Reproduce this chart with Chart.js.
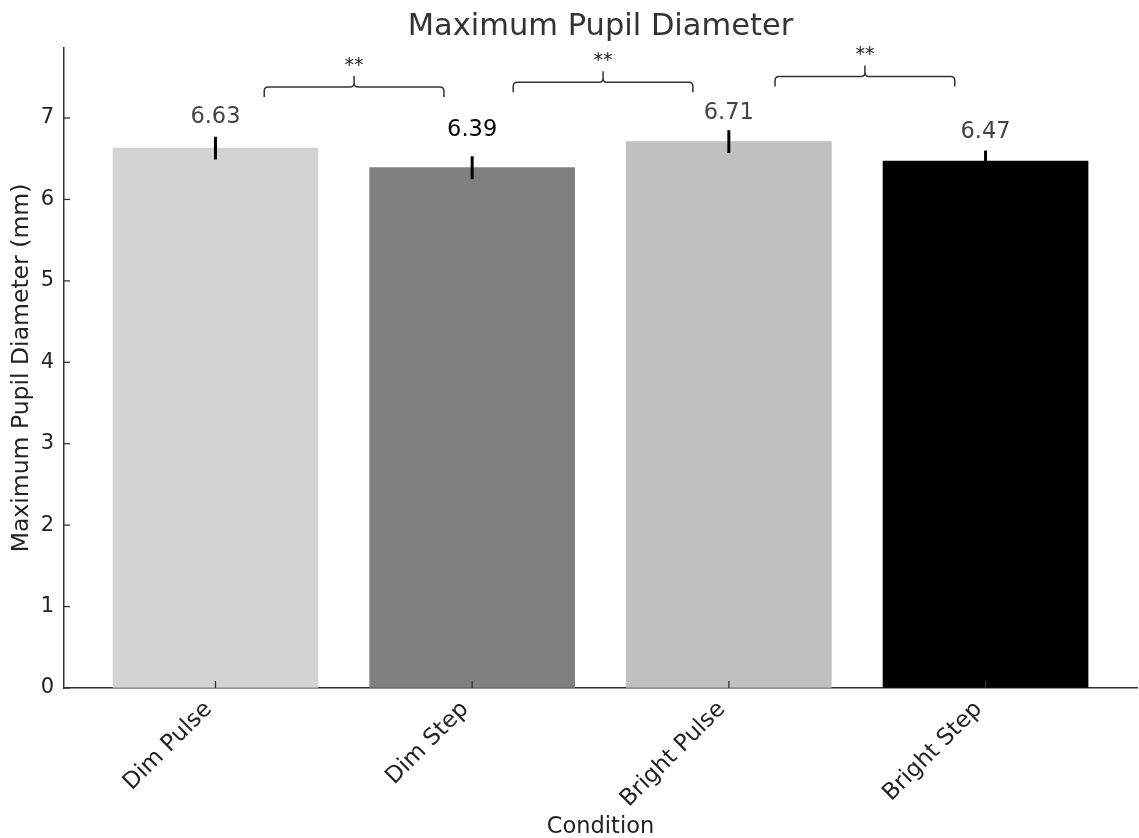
<!DOCTYPE html>
<html>
<head>
<meta charset="utf-8">
<script src="https://cdn.jsdelivr.net/npm/chart.js@4"></script>
<style>
  body { margin: 0; background: #fff; }
  canvas { display: block; }
</style>
</head>
<body>
<canvas id="myChart" width="1139" height="838"></canvas>
<script>
// chart values
const categories = ['Dim Pulse', 'Dim Step', 'Bright Pulse', 'Bright Step'];
const means = [6.63, 6.39, 6.71, 6.47];
const errors = [0.14, 0.14, 0.14, 0.13];
const barColors = ['#d3d3d3', '#808080', '#c0c0c0', '#000000'];
const yTicks = [0, 1, 2, 3, 4, 5, 6, 7];

// significance brackets (x in category units, y in mm)
const bracketFrom = [0.19, 1.16, 2.18];
const bracketTo = [0.89, 1.86, 2.88];
const bracketLevel = [7.38, 7.44, 7.51];
const bracketText = ['**', '**', '**'];

// label looks
const labelColors = ['#444444', '#000000', '#444444', '#444444'];
const labelGap = [14, 20, 11, 13];

const FONT = 'DejaVu Sans';
const AXIS = '#333333';

const extras = {
  id: 'extras',
  afterDatasetsDraw(chart) {
    const ctx = chart.ctx;
    const xs = chart.scales.x;
    const ys = chart.scales.y;
    const area = chart.chartArea;
    ctx.save();

    // error bars
    ctx.strokeStyle = '#000';
    ctx.lineWidth = 3;
    means.forEach((m, i) => {
      const x = xs.getPixelForValue(i);
      ctx.beginPath();
      ctx.moveTo(x, ys.getPixelForValue(m + errors[i]));
      ctx.lineTo(x, ys.getPixelForValue(m - errors[i]));
      ctx.stroke();
    });

    // value labels
    ctx.font = '22.5px "' + FONT + '"';
    ctx.textAlign = 'center';
    ctx.textBaseline = 'alphabetic';
    means.forEach((m, i) => {
      ctx.fillStyle = labelColors[i];
      ctx.fillText(m.toFixed(2), xs.getPixelForValue(i), ys.getPixelForValue(m + errors[i]) - labelGap[i]);
    });

    // inward tick marks
    ctx.strokeStyle = AXIS;
    ctx.lineWidth = 1.3;
    yTicks.forEach(t => {
      const y = ys.getPixelForValue(t);
      ctx.beginPath();
      ctx.moveTo(area.left, y);
      ctx.lineTo(area.left + 6, y);
      ctx.stroke();
    });
    categories.forEach((c, i) => {
      const x = xs.getPixelForValue(i);
      ctx.beginPath();
      ctx.moveTo(x, area.bottom);
      ctx.lineTo(x, area.bottom - 7);
      ctx.stroke();
    });

    // brackets
    ctx.lineWidth = 1.5;
    ctx.strokeStyle = AXIS;
    ctx.fillStyle = '#222';
    ctx.font = '19px "' + FONT + '"';
    bracketFrom.forEach((f, i) => {
      const x1 = xs.getPixelForValue(f);
      const x2 = xs.getPixelForValue(bracketTo[i]);
      const xm = (x1 + x2) / 2;
      const y = ys.getPixelForValue(bracketLevel[i]);
      const r = 4;
      ctx.beginPath();
      ctx.moveTo(x1, y + 10);
      ctx.lineTo(x1, y + r);
      ctx.quadraticCurveTo(x1, y, x1 + r, y);
      ctx.lineTo(xm - r, y);
      ctx.quadraticCurveTo(xm, y, xm, y - r);
      ctx.lineTo(xm, y - 11);
      ctx.moveTo(xm, y - r);
      ctx.quadraticCurveTo(xm, y, xm + r, y);
      ctx.lineTo(x2 - r, y);
      ctx.quadraticCurveTo(x2, y, x2, y + r);
      ctx.lineTo(x2, y + 10);
      ctx.stroke();
      ctx.fillText(bracketText[i], xm, y - 16);
    });

    // title
    ctx.fillStyle = '#333';
    ctx.font = '30.5px "' + FONT + '"';
    ctx.textBaseline = 'middle';
    ctx.fillText('Maximum Pupil Diameter', (area.left + area.right) / 2, 27);
    ctx.restore();
  }
};

const myChart = document.getElementById('myChart');

new Chart(myChart, {
  type: 'bar',
  data: {
    datasets: [{
      data: means.map((m, i) => ({ x: i, y: m })),
      backgroundColor: barColors,
      borderWidth: 0,
      barThickness: 205
    }]
  },
  options: {
    responsive: false,
    animation: false,
    devicePixelRatio: 1,
    layout: { padding: { top: 48, right: 2, left: 0, bottom: 0 } },
    plugins: {
      legend: { display: false },
      tooltip: { enabled: false }
    },
    scales: {
      x: {
        type: 'linear',
        offset: false,
        min: -0.59,
        max: 3.59,
        afterBuildTicks: scale => {
          scale.ticks = categories.map((c, i) => ({ value: i }));
        },
        afterFit: scale => { scale.height = 150; },
        grid: { drawOnChartArea: false, drawTicks: false, offset: false },
        border: { display: true, color: AXIS, width: 1.5 },
        ticks: {
          callback: v => categories[v],
          minRotation: 45,
          maxRotation: 45,
          padding: 8,
          labelOffset: -7,
          color: '#222',
          font: { family: FONT, size: 23 }
        },
        title: {
          display: true,
          text: 'Condition',
          color: '#222',
          padding: { top: 0, bottom: -3 },
          font: { family: FONT, size: 22.5 }
        }
      },
      y: {
        min: 0,
        max: 7.86,
        afterBuildTicks: scale => {
          scale.ticks = yTicks.map(v => ({ value: v }));
        },
        afterFit: scale => { scale.width = 64; },
        grid: { drawOnChartArea: false, drawTicks: false },
        border: { display: true, color: AXIS, width: 1.5 },
        ticks: {
          padding: 10,
          color: '#222',
          font: { family: FONT, size: 21 }
        },
        title: {
          display: true,
          text: 'Maximum Pupil Diameter (mm)',
          color: '#222',
          padding: { top: 8, bottom: 0 },
          font: { family: FONT, size: 23.5 }
        }
      }
    }
  },
  plugins: [extras]
});
</script>
</body>
</html>
